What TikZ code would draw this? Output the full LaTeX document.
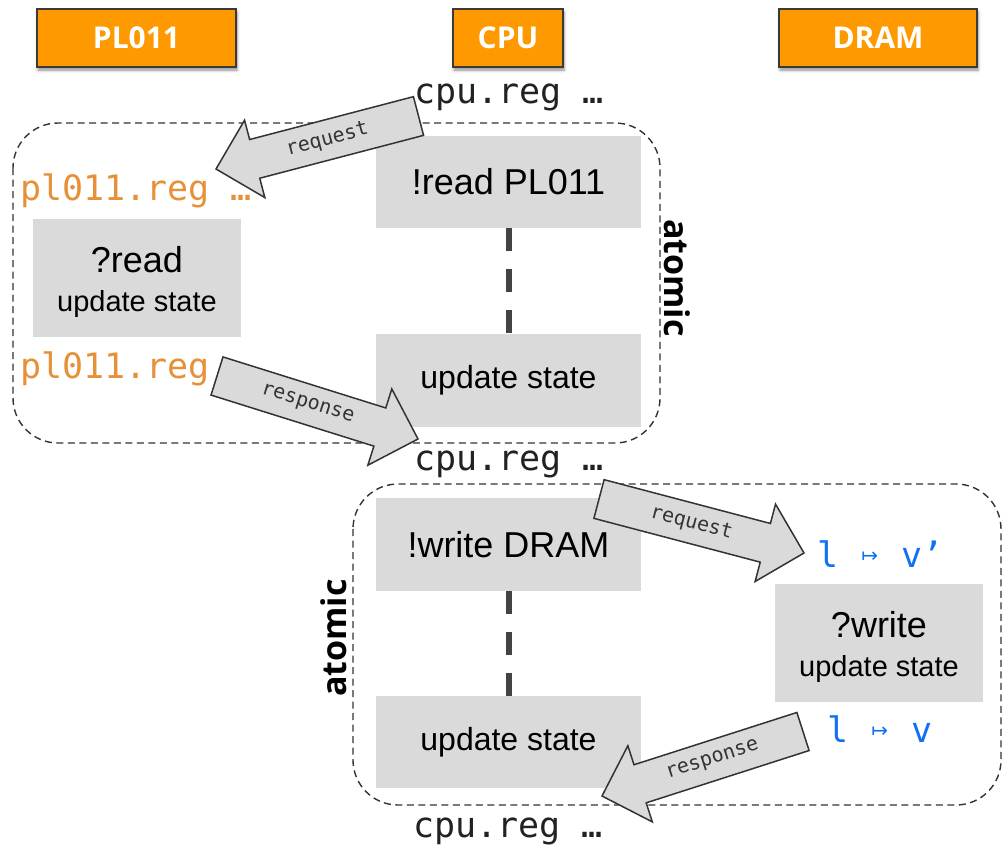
\documentclass[tikz,border=0pt]{standalone}
\usepackage{fontspec}
\setmainfont{Liberation Sans}
\newfontfamily\hdfont{Open Sans}
\newfontfamily\monocode{DejaVu Sans Mono}
\newfontfamily\mapsfont{DejaVu Sans}
\usetikzlibrary{calc,shadows.blur}

\definecolor{hdorange}{HTML}{FF9900}
\definecolor{hdline}{HTML}{3A3A3A}
\definecolor{boxgray}{HTML}{DADADA}
\definecolor{edge}{HTML}{333333}
\definecolor{linkgray}{HTML}{434343}
\definecolor{codeorange}{HTML}{E69138}
\definecolor{codeink}{HTML}{222222}
\definecolor{codeblue}{HTML}{1170F5}

% small maps-to sign occupying one monospace cell
\newcommand\mapsym{\makebox[21pt]{\mapsfont\fontsize{20}{20}\selectfont\raisebox{5pt}{↦}}}

% block arrow from a tail coordinate to a tip coordinate, with a label on its shaft
\newcommand\blockarrow[3]{%
  \coordinate (#1-head) at ($(#2)!40pt!(#1)$);
  \path[blockarrow]
    ($(#1)!20pt!90:(#2)$) -- ($(#1-head)!20pt!90:(#2)$) -- ($(#1-head)!40pt!90:(#2)$)
    -- (#2)
    -- ($(#1-head)!40pt!-90:(#2)$) -- ($(#1-head)!20pt!-90:(#2)$) -- ($(#1)!20pt!-90:(#2)$)
    -- cycle;
  \path (#1) -- (#2) node[arrowlabel] {#3};
}

\tikzset{
  header/.style={draw=hdline, line width=1.5pt, fill=hdorange, text=white,
    font=\hdfont\bfseries\fontsize{30}{30}\selectfont, minimum height=58pt, inner sep=0pt,
    blur shadow={shadow xshift=1pt, shadow yshift=-3pt, shadow blur radius=3pt, shadow opacity=45}},
  graybox/.style={fill=boxgray, inner sep=0pt, align=center, font=\fontsize{36}{40}\selectfont},
  boxtext/.style={inner sep=0pt, align=center, font=\fontsize{36}{40}\selectfont},
  code/.style={font=\monocode\fontsize{35}{35}\selectfont, inner sep=0pt, anchor=base west},
  region/.style={draw=edge, line width=1.4pt, dash pattern=on 7pt off 4.5pt, rounded corners=45pt},
  linkdash/.style={draw=linkgray, line width=6pt, dash pattern=on 23pt off 18pt},
  blockarrow/.style={fill=boxgray, draw=edge, line width=1.5pt, line join=miter},
  arrowlabel/.style={font=\monocode\fontsize{20}{20}\selectfont, text=edge, sloped, pos=0.45},
  atomiclabel/.style={font=\hdfont\bfseries\fontsize{34}{34}\selectfont, text=black, inner sep=0pt}
}

\begin{document}
\begin{tikzpicture}[x=1pt,y=-1pt]
\useasboundingbox (0,0) rectangle (1004,844);

% atomic regions
\draw[region] (13,123) rectangle (660,443);
\draw[region] (353,484) rectangle (1001,805);
\node[atomiclabel, rotate=-90] (atomtop) at (677,278) {atomic};
\node[atomiclabel, rotate=90] (atombot) at (334,638) {atomic};

% component headers
\node[header, minimum width=199pt] (pl) at (136.5,38) {PL011};
\node[header, minimum width=110pt] (cpu) at (508,38) {CPU};
\node[header, minimum width=198pt] (dram) at (878,38) {DRAM};

% steps
\node[graybox, minimum width=265pt, minimum height=92pt] (rd) at (508.5,182) {!read PL011};
\node[graybox, minimum width=265pt, minimum height=93pt] (up1) at (508.5,380.5) {\fontsize{32}{32}\selectfont update state};
\node[graybox, minimum width=208pt, minimum height=118pt] (qrd) at (137,278) {};
\node[boxtext] (qrdtext) at ([yshift=-4pt]qrd.center)
  {?read\\[-1pt]{\fontsize{29}{29}\selectfont update state}};
\node[graybox, minimum width=265pt, minimum height=93pt] (wr) at (508.5,544.5) {!write DRAM};
\node[graybox, minimum width=265pt, minimum height=92pt] (up2) at (508.5,742) {\fontsize{32}{32}\selectfont update state};
\node[graybox, minimum width=208pt, minimum height=118pt] (qwr) at (879,643) {};
\node[boxtext] (qwrtext) at ([yshift=-4pt]qwr.center)
  {?write\\[-1pt]{\fontsize{29}{29}\selectfont update state}};

\draw[linkdash] (rd.south) -- (up1.north);
\draw[linkdash] (wr.south) -- (up2.north);

% register states
\node[code, text=codeink] (cpu0) at (414,103) {cpu.reg …};
\node[code, text=codeorange] (plreq) at (20,200) {pl011.reg …};
\node[code, text=codeorange] (plrsp) at (20,378) {pl011.reg};
\node[code, text=codeink] (cpu1) at (414,470) {cpu.reg …};
\node[code, text=codeblue] (lv1) at (817,567) {l \mapsym{} v’};
\node[code, text=codeblue] (lv2) at (827,742) {l \mapsym{} v};
\node[code, text=codeink] (cpu2) at (413,837) {cpu.reg …};

% messages
\coordinate (req1-tail) at (418.5,116);
\coordinate (req1-tip) at (216,169);
\coordinate (rsp1-tail) at (217,376);
\coordinate (rsp1-tip) at (418,439);
\coordinate (req2-tail) at (599,499);
\coordinate (req2-tip) at (804,553);
\coordinate (rsp2-tail) at (803,731.5);
\coordinate (rsp2-tip) at (602,796);

\blockarrow{req1-tail}{req1-tip}{request}
\blockarrow{rsp1-tail}{rsp1-tip}{response}
\blockarrow{req2-tail}{req2-tip}{request}
\blockarrow{rsp2-tail}{rsp2-tip}{response}
\end{tikzpicture}
\end{document}
